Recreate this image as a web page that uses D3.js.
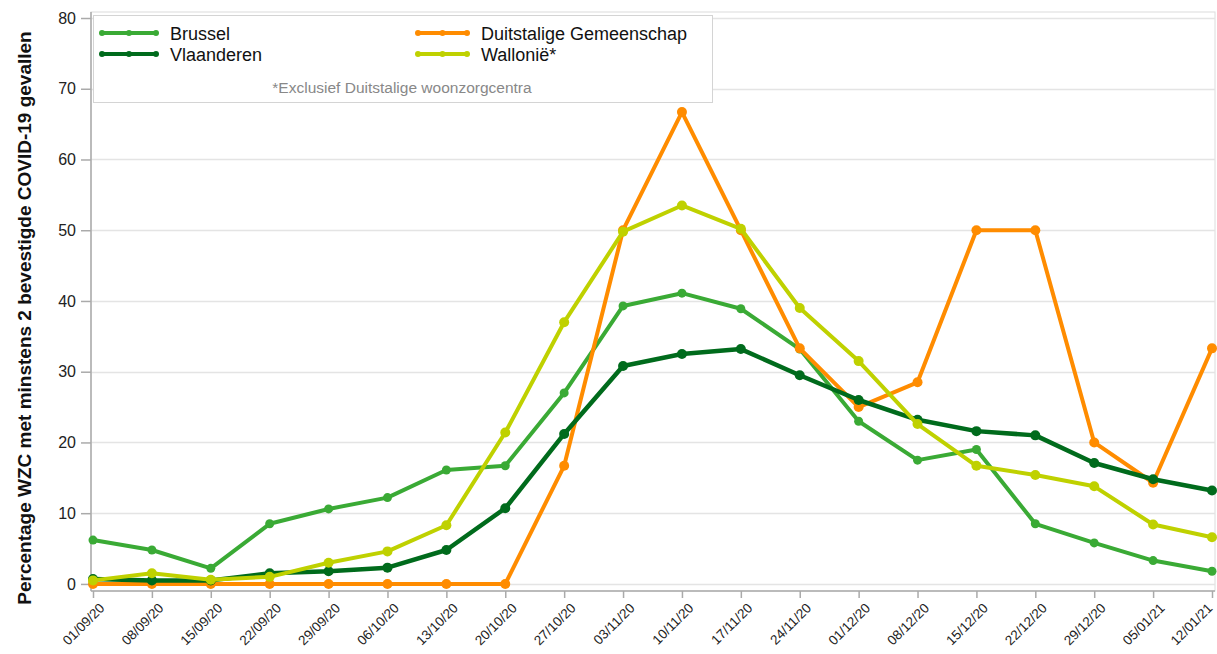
<!DOCTYPE html>
<html><head><meta charset="utf-8">
<script src="https://cdn.jsdelivr.net/npm/d3@7"></script>
<style>
body{margin:0;background:#fff;font-family:"Liberation Sans",Arial,sans-serif;}
</style></head>
<body><svg id="c" width="1217" height="654"></svg>
<script>
const dates = ["01/09/20","08/09/20","15/09/20","22/09/20","29/09/20","06/10/20","13/10/20","20/10/20","27/10/20","03/11/20","10/11/20","17/11/20","24/11/20","01/12/20","08/12/20","15/12/20","22/12/20","29/12/20","05/01/21","12/01/21"];
const brussel =     [6.2,4.8,2.2,8.5,10.6,12.2,16.1,16.7,27.0,39.3,41.1,38.9,33.2,23.0,17.5,19.0,8.5,5.8,3.3,1.8];
const duitstalig =  [0,0,0,0,0,0,0,0,16.7,50.0,66.7,50.0,33.3,25.0,28.5,50.0,50.0,20.0,14.3,33.3];
const vlaanderen =  [0.7,0.5,0.5,1.5,1.8,2.3,4.8,10.7,21.2,30.8,32.5,33.2,29.5,26.0,23.2,21.6,21.0,17.1,14.8,13.2];
const wallonie =    [0.5,1.5,0.6,1.0,3.0,4.6,8.3,21.4,37.0,49.8,53.5,50.2,39.0,31.5,22.6,16.7,15.4,13.8,8.4,6.6];
const yTicks = [0,10,20,30,40,50,60,70,80];

const series = [
  {name:"Brussel", values:brussel, color:"#3aaa35", lw:4, r:4.5},
  {name:"Duitstalige Gemeenschap", values:duitstalig, color:"#ff8c00", lw:4, r:5},
  {name:"Vlaanderen", values:vlaanderen, color:"#006b1c", lw:4.5, r:5},
  {name:"Wallonië*", values:wallonie, color:"#bfd100", lw:4, r:5}
];

const svg = d3.select("#c");
const L=91, R=1215, T=12, B=591;
const x = d3.scalePoint().domain(dates).range([93,1212]);
const y = d3.scaleLinear().domain([-1,80.85]).range([B,T]);

// frame
svg.append("rect").attr("x",L).attr("y",T).attr("width",R-L).attr("height",B-T)
  .attr("fill","none").attr("stroke","#dcdcdc").attr("stroke-width",1);

// gridlines
svg.append("g").selectAll("line").data(yTicks).join("line")
  .attr("x1",L).attr("x2",R).attr("y1",d=>Math.round(y(d))+0.5).attr("y2",d=>Math.round(y(d))+0.5)
  .attr("stroke","#e4e4e4").attr("stroke-width",1.5);

// y axis
const ya = svg.append("g").attr("transform",`translate(${L},0)`)
  .call(d3.axisLeft(y).tickValues(yTicks).tickSize(10).tickPadding(5));
ya.select(".domain").attr("stroke","#aaa").attr("stroke-width",1.5).attr("d",`M0,${T}V${B}`);
ya.selectAll(".tick line").attr("stroke","#aaa").attr("stroke-width",1.5);
ya.selectAll(".tick text").attr("font-size",16).attr("fill","#222").attr("font-family","Liberation Sans, Arial, sans-serif");

// x axis
const xa = svg.append("g").attr("transform",`translate(0,${B})`)
  .call(d3.axisBottom(x).tickSize(7).tickPadding(3));
xa.select(".domain").attr("stroke","#aaa").attr("stroke-width",1.5).attr("d",`M${L},0H${R}`);
xa.selectAll(".tick line").attr("stroke","#aaa").attr("stroke-width",1.5);
xa.selectAll(".tick text").attr("font-size",13.5).attr("fill","#222")
  .attr("font-family","Liberation Sans, Arial, sans-serif")
  .attr("text-anchor","end").attr("dy","0.3em")
  .attr("transform",(d,i)=> i===dates.length-1 ? "translate(-9,8) rotate(-45)" : "translate(2,8) rotate(-45)");

// y title
svg.append("text").attr("transform",`translate(31,318) rotate(-90)`)
  .attr("text-anchor","middle").attr("font-size",19).attr("font-weight","bold").attr("fill","#111")
  .text("Percentage WZC met minstens 2 bevestigde COVID-19 gevallen");

// lines
const line = d3.line().x((d,i)=>x(dates[i])).y(d=>y(d));
series.forEach(s=>{
  const g = svg.append("g");
  g.append("path").datum(s.values).attr("d",line).attr("fill","none")
    .attr("stroke",s.color).attr("stroke-width",s.lw).attr("stroke-linejoin","round");
  g.selectAll("circle").data(s.values).join("circle")
    .attr("cx",(d,i)=>x(dates[i])).attr("cy",d=>y(d)).attr("r",s.r).attr("fill",s.color);
});

// legend
const lg = svg.append("g");
lg.append("rect").attr("x",93.5).attr("y",15.5).attr("width",619).attr("height",87)
  .attr("fill","#fff").attr("stroke","#d4d4d4").attr("stroke-width",1);
const legPos = [
  {s:series[0], x:102, y:33, tx:170},
  {s:series[2], x:102, y:54, tx:170},
  {s:series[1], x:418, y:33, tx:481},
  {s:series[3], x:418, y:54, tx:481}
];
legPos.forEach(p=>{
  const w = p.tx - p.x - 14;
  lg.append("line").attr("x1",p.x).attr("x2",p.x+w).attr("y1",p.y).attr("y2",p.y)
    .attr("stroke",p.s.color).attr("stroke-width",4);
  [0,w/2,w].forEach(dx=>lg.append("circle").attr("cx",p.x+dx).attr("cy",p.y).attr("r",3).attr("fill",p.s.color));
  lg.append("text").attr("x",p.tx).attr("y",p.y+6.5).attr("font-size",18).attr("fill","#111")
    .text(p.s.name);
});
lg.append("text").attr("x",402).attr("y",93).attr("text-anchor","middle").attr("font-size",15.5)
  .attr("fill","#888").text("*Exclusief Duitstalige woonzorgcentra");
</script></body></html>
